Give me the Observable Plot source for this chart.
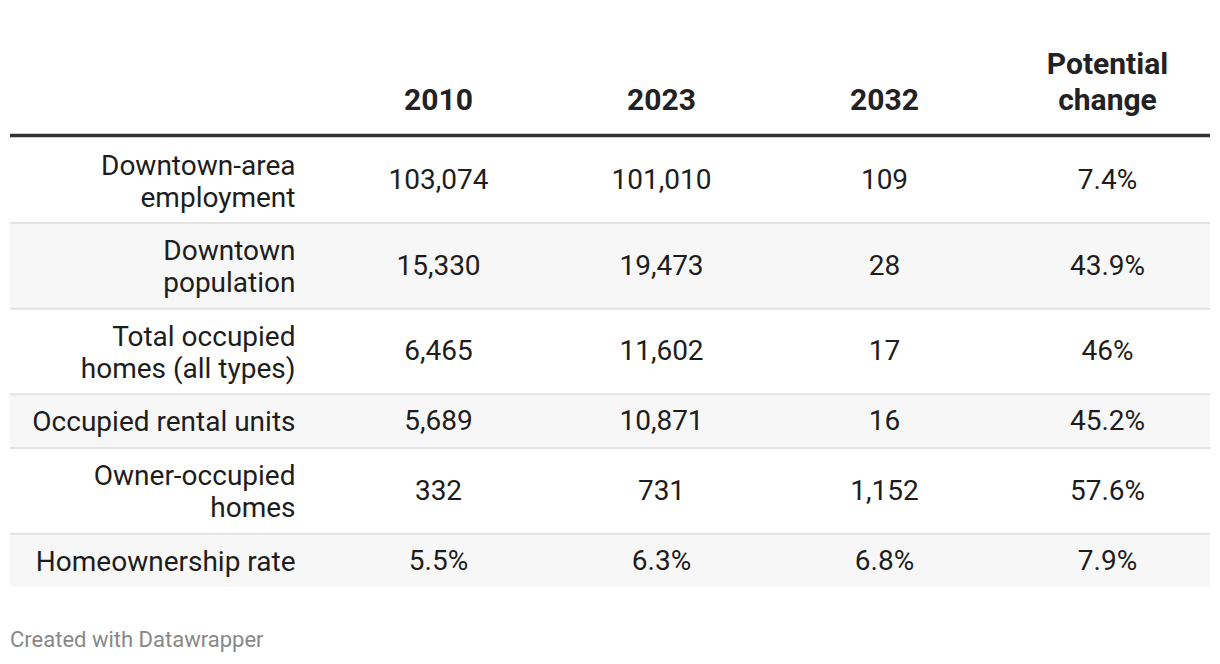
<!DOCTYPE html>
<html>
<head>
<meta charset="utf-8">
<script src="https://cdn.jsdelivr.net/npm/d3@7"></script>
<script src="https://cdn.jsdelivr.net/npm/@observablehq/plot@0.6"></script>
<style>
  html, body { margin: 0; padding: 0; background: #fff; }
  #wrap { position: relative; width: 1220px; height: 664px; font-family: Roboto, sans-serif; }
  #footer { position: absolute; left: 10px; top: 628px; font-size: 22px; color: #888; line-height: 24px; }
</style>
</head>
<body>
<div id="wrap">
  <div id="chart"></div>
  <div id="footer">Created with Datawrapper</div>
</div>
<script>
const columns = ["2010", "2023", "2032", "Potential\nchange"];
const rowLabels = [
  "Downtown-area\nemployment",
  "Downtown\npopulation",
  "Total occupied\nhomes (all types)",
  "Occupied rental units",
  "Owner-occupied\nhomes",
  "Homeownership rate"
];
const values2010 = ["103,074", "15,330", "6,465", "5,689", "332", "5.5%"];
const values2023 = ["101,010", "19,473", "11,602", "10,871", "731", "6.3%"];
const values2032 = ["109", "28", "17", "16", "1,152", "6.8%"];
const valuesChange = ["7.4%", "43.9%", "46%", "45.2%", "57.6%", "7.9%"];

const series = [values2010, values2023, values2032, valuesChange];

// build row extents from number of text lines in each label
let acc = 0;
const rows = rowLabels.map((label, i) => {
  const lines = label.split("\n").length;
  const h = lines + 0.7;
  const r = {i, label, y1: acc, y2: acc + h, mid: acc + h / 2};
  acc += h;
  return r;
});
const total = acc;

const cells = [];
rows.forEach((r, i) => {
  columns.forEach((c, j) => {
    cells.push({col: c, y: r.mid, text: series[j][i]});
  });
});
const header = columns.map(c => ({col: c}));
const separators = rows.slice(1).map(r => ({y: r.y1}));

const chart = Plot.plot({
  width: 1220,
  height: 600,
  marginLeft: 10,
  marginRight: 10,
  marginTop: 0,
  marginBottom: 0,
  style: {fontFamily: "Roboto, sans-serif", background: "#fff"},
  x: {type: "point", domain: columns, range: [438, 1107], padding: 0, axis: null},
  y: {type: "linear", domain: [0, total], range: [137, 587], axis: null},
  marks: [
    Plot.rect(rows.filter(r => r.i % 2 === 1), {y1: "y1", y2: "y2", fill: "#f7f7f7"}),
    Plot.ruleY(separators, {y: "y", stroke: "#e3e3e3", strokeWidth: 2}),
    Plot.ruleY([0], {stroke: "#333", strokeWidth: 3.5, dy: -2}),
    Plot.text(rows, {y: "mid", text: "label", frameAnchor: "left", dx: 285, textAnchor: "end",
      fontSize: 28, fill: "#1d1d1d", lineHeight: 1.143}),
    Plot.text(cells, {x: "col", y: "y", text: "text", fontSize: 28, fill: "#1d1d1d"}),
    Plot.text(header, {x: "col", y: () => -0.88, text: "col", lineAnchor: "bottom",
      fontSize: 30, fontWeight: "bold", fill: "#222", lineHeight: 1.18})
  ]
});
document.getElementById("chart").appendChild(chart);
</script>
</body>
</html>
